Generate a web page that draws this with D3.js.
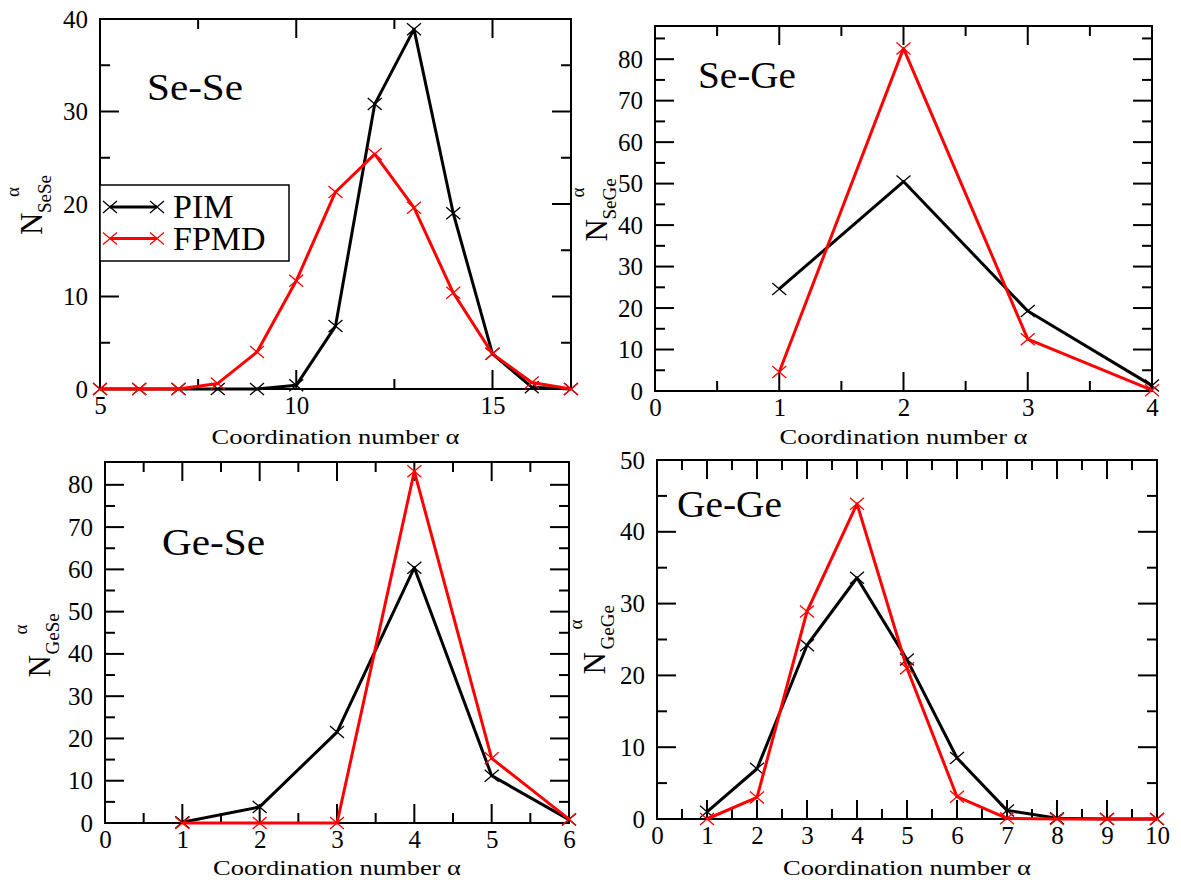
<!DOCTYPE html>
<html>
<head>
<meta charset="utf-8">
<script src="https://cdn.jsdelivr.net/npm/d3@7"></script>
<style>
  body { margin: 0; background: #fff; }
  svg { display: block; }
  text { font-family: "Liberation Serif", "Times New Roman", serif; fill: #000; }
</style>
</head>
<body>
<svg id="chart" width="1181" height="880"></svg>
<script>
// Series
const seriesNames = ["PIM", "FPMD"];
const seriesColors = ["#000000", "#ff0000"];

// Se-Se coordination distribution
const seSeAlpha = [5, 6, 7, 8, 9, 10, 11, 12, 13, 14, 15, 16, 17];
const seSePIM   = [0, 0, 0, 0, 0, 0.4, 6.8, 30.8, 38.9, 19.0, 3.8, 0.2, 0];
const seSeFPMD  = [0, 0, 0, 0.6, 4.0, 11.7, 21.3, 25.4, 19.6, 10.4, 3.8, 0.7, 0];
const seSeXTicks = [5, 10, 15];
const seSeYTicks = [0, 10, 20, 30, 40];

// Se-Ge coordination distribution
const seGeAlpha = [1, 2, 3, 4];
const seGePIM   = [24.6, 50.5, 19.3, 1.3];
const seGeFPMD  = [4.6, 82.6, 12.5, 0.2];
const seGeXTicks = [0, 1, 2, 3, 4];
const seGeYTicks = [0, 10, 20, 30, 40, 50, 60, 70, 80];

// Ge-Se coordination distribution
const geSeAlpha = [1, 2, 3, 4, 5, 6];
const geSePIM   = [0.2, 3.8, 21.5, 60.4, 11.2, 0.8];
const geSeFPMD  = [0, 0, 0, 83.2, 15.3, 0.9];
const geSeXTicks = [0, 1, 2, 3, 4, 5, 6];
const geSeYTicks = [0, 10, 20, 30, 40, 50, 60, 70, 80];

// Ge-Ge coordination distribution
const geGeAlpha = [1, 2, 3, 4, 5, 6, 7, 8, 9, 10];
const geGePIM   = [1.0, 7.0, 24.2, 33.6, 22.2, 8.5, 1.2, 0.1, 0, 0];
const geGeFPMD  = [0, 3.0, 28.9, 43.9, 21.0, 3.1, 0.1, 0, 0, 0];
const geGeXTicks = [0, 1, 2, 3, 4, 5, 6, 7, 8, 9, 10];
const geGeYTicks = [0, 10, 20, 30, 40, 50];

const xLabelText = "Coordination number α";
const serif = "'Liberation Serif', 'Times New Roman', serif";

// Panel layout
const panels = [
  { title: "Se-Se", sub: "SeSe", alpha: seSeAlpha, series: [seSePIM, seSeFPMD],
    xDom: [5, 17], yDom: [0, 40], xTicks: seSeXTicks, yTicks: seSeYTicks, xMinor: 2.5, yMinor: 5,
    box: { l: 100, r: 571, t: 19, b: 389 }, titlePos: [147, 100], titleLen: 96,
    yLab: { x: 42, n: -31, s: -9, a: 7 }, xLabY: 444, legend: true },
  { title: "Se-Ge", sub: "SeGe", alpha: seGeAlpha, series: [seGePIM, seGeFPMD],
    xDom: [0, 4], yDom: [0, 88], xTicks: seGeXTicks, yTicks: seGeYTicks, xMinor: 0.5, yMinor: 5,
    box: { l: 655, r: 1152, t: 26, b: 391 }, titlePos: [698, 88], titleLen: 98,
    yLab: { x: 607, n: -33, s: -11, a: 11 }, xLabY: 444, legend: false },
  { title: "Ge-Se", sub: "GeSe", alpha: geSeAlpha, series: [geSePIM, geSeFPMD],
    xDom: [0, 6], yDom: [0, 85.4], xTicks: geSeXTicks, yTicks: geSeYTicks, xMinor: 0.5, yMinor: 5,
    box: { l: 105, r: 569, t: 462, b: 823 }, titlePos: [162, 555], titleLen: 103,
    yLab: { x: 50, n: -35, s: -12, a: 8 }, xLabY: 875, legend: false },
  { title: "Ge-Ge", sub: "GeGe", alpha: geGeAlpha, series: [geGePIM, geGeFPMD],
    xDom: [0, 10], yDom: [0, 50], xTicks: geGeXTicks, yTicks: geGeYTicks, xMinor: 0.5, yMinor: 5,
    box: { l: 657, r: 1157, t: 460, b: 819 }, titlePos: [677, 517], titleLen: 105,
    yLab: { x: 605, n: -35, s: -10, a: 10 }, xLabY: 875, legend: false }
];

const svg = d3.select("#chart");
const crossPath = "M-7,-6L7,6M-7,6L7,-6";
const MAJOR = 19, MINOR = 10;

function minorValues(dom, step, major) {
  const out = [];
  for (let v = dom[0]; v <= dom[1] + 1e-9; v += step) {
    const r = Math.round(v * 1000) / 1000;
    if (!major.some(m => Math.abs(m - r) < 1e-6)) out.push(r);
  }
  return out;
}

function labelAxis(g) {
  g.attr("font-family", serif);
  g.selectAll(".domain").remove();
  g.selectAll(".tick line").remove();
  g.selectAll(".tick text").style("font-size", "25px").style("font-family", serif).attr("fill", "#000");
}

panels.forEach(p => {
  const { l, r, t, b } = p.box;
  const x = d3.scaleLinear().domain(p.xDom).range([l, r]);
  const y = d3.scaleLinear().domain(p.yDom).range([b, t]);
  const g = svg.append("g");

  const xMinorVals = minorValues(p.xDom, p.xMinor, p.xTicks);
  const yMinorVals = minorValues(p.yDom, p.yMinor, p.yTicks).filter(v => v < p.yDom[1] - 0.5);

  // Tick labels
  g.append("g").attr("transform", `translate(0,${b})`)
    .call(d3.axisBottom(x).tickValues(p.xTicks).tickSize(0).tickPadding(7).tickFormat(d3.format("d")))
    .call(labelAxis);
  g.append("g").attr("transform", `translate(${l},0)`)
    .call(d3.axisLeft(y).tickValues(p.yTicks).tickSize(0).tickPadding(12).tickFormat(d3.format("d")))
    .call(labelAxis);

  // Inward tick marks on all four sides
  const tickG = g.append("g").attr("stroke", "#000").attr("stroke-width", 2);
  const xt = p.xTicks.map(v => [v, MAJOR]).concat(xMinorVals.map(v => [v, MINOR]));
  const yt = p.yTicks.map(v => [v, MAJOR]).concat(yMinorVals.map(v => [v, MINOR]));
  tickG.selectAll(null).data(xt).enter().append("line")
    .attr("x1", d => x(d[0])).attr("x2", d => x(d[0])).attr("y1", b).attr("y2", d => b - d[1]);
  tickG.selectAll(null).data(xt).enter().append("line")
    .attr("x1", d => x(d[0])).attr("x2", d => x(d[0])).attr("y1", t).attr("y2", d => t + d[1]);
  tickG.selectAll(null).data(yt).enter().append("line")
    .attr("y1", d => y(d[0])).attr("y2", d => y(d[0])).attr("x1", l).attr("x2", d => l + d[1]);
  tickG.selectAll(null).data(yt).enter().append("line")
    .attr("y1", d => y(d[0])).attr("y2", d => y(d[0])).attr("x1", r).attr("x2", d => r - d[1]);

  // Frame
  g.append("rect").attr("x", l).attr("y", t).attr("width", r - l).attr("height", b - t)
    .attr("fill", "none").attr("stroke", "#000").attr("stroke-width", 2);

  // Series lines and cross markers
  const line = d3.line().x(d => x(d[0])).y(d => y(d[1]));
  p.series.forEach((vals, si) => {
    const pts = p.alpha.map((a, i) => [a, vals[i]]);
    g.append("path").datum(pts).attr("d", line)
      .attr("fill", "none").attr("stroke", seriesColors[si]).attr("stroke-width", 3)
      .attr("stroke-linejoin", "round");
    g.selectAll(null).data(pts).enter().append("path")
      .attr("transform", d => `translate(${x(d[0])},${y(d[1])})`)
      .attr("d", crossPath).attr("fill", "none")
      .attr("stroke", seriesColors[si]).attr("stroke-width", 1.3);
  });

  // Panel title
  g.append("text").attr("x", p.titlePos[0]).attr("y", p.titlePos[1])
    .style("font-size", "37px").attr("textLength", p.titleLen)
    .attr("lengthAdjust", "spacingAndGlyphs").text(p.title);

  // x-axis label
  g.append("text").attr("x", (l + r) / 2).attr("y", p.xLabY)
    .attr("text-anchor", "middle").style("font-size", "22px")
    .attr("textLength", 248).attr("lengthAdjust", "spacingAndGlyphs").text(xLabelText);

  // y-axis label: N with subscript pair and superscript alpha
  const yl = g.append("g").attr("transform", `translate(${p.yLab.x},${(t + b) / 2}) rotate(-90)`);
  yl.append("text").attr("x", p.yLab.n).attr("y", 0).style("font-size", "31px").text("N");
  yl.append("text").attr("x", p.yLab.s).attr("y", 9).style("font-size", "19px").text(p.sub);
  yl.append("text").attr("x", p.yLab.a).attr("y", -23).style("font-size", "19px").text("α");

  // Legend
  if (p.legend) {
    const lg = g.append("g");
    lg.append("rect").attr("x", l).attr("y", 185).attr("width", 189).attr("height", 76)
      .attr("fill", "#fff").attr("stroke", "#000").attr("stroke-width", 1.5);
    seriesNames.forEach((name, i) => {
      const ly = 207 + i * 31.5;
      lg.append("line").attr("x1", 110).attr("x2", 157).attr("y1", ly).attr("y2", ly)
        .attr("stroke", seriesColors[i]).attr("stroke-width", 3);
      [110, 157].forEach(mx => {
        lg.append("path").attr("transform", `translate(${mx},${ly})`).attr("d", crossPath)
          .attr("fill", "none").attr("stroke", seriesColors[i]).attr("stroke-width", 1.3);
      });
      lg.append("text").attr("x", 173).attr("y", ly + 11).style("font-size", "34px").text(name);
    });
  }
});
</script>
</body>
</html>
